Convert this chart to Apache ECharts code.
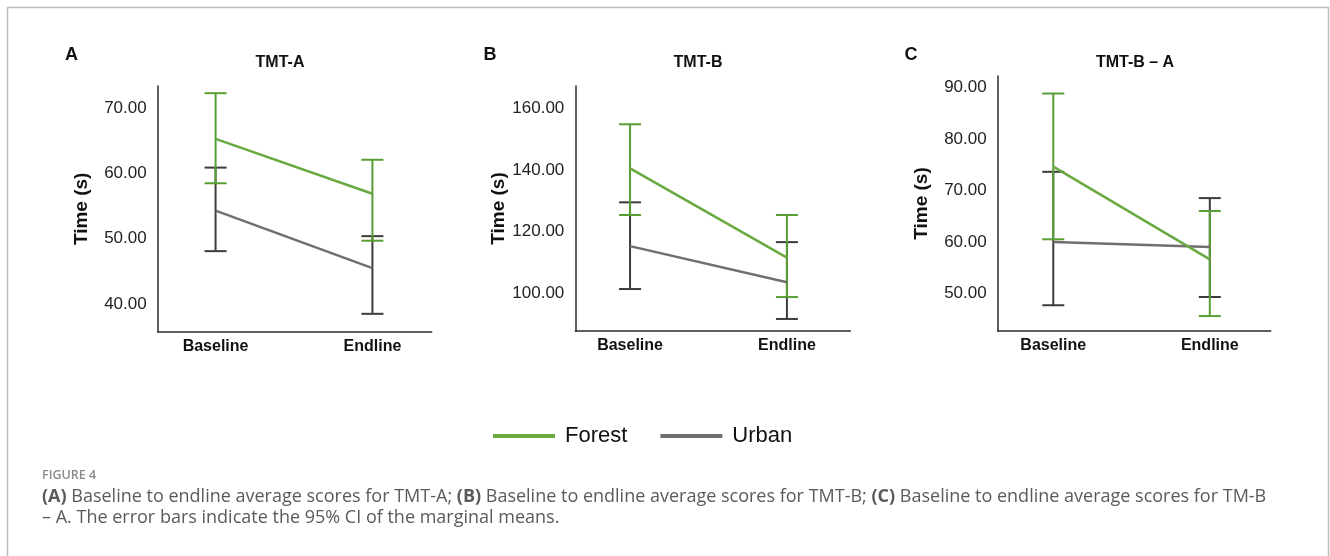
<!DOCTYPE html>
<html>
<head>
<meta charset="utf-8">
<script src="https://cdn.jsdelivr.net/npm/echarts@6/dist/echarts.min.js"></script>
<style>
html,body{margin:0;padding:0;background:#fff;}
#chart{width:1330px;height:556px;}
</style>
</head>
<body>
<div id="chart"></div>
<script>
// ---- data ----
var categories = ['Baseline', 'Endline'];
var panelTitles = ['TMT-A', 'TMT-B', 'TMT-B \u2013 A'];
var panelLetters = ['A', 'B', 'C'];
var seriesNames = ['Forest', 'Urban'];

// Panel A: TMT-A
var forestA_mean = [65.3, 56.9];
var forestA_lo   = [58.5, 49.7];
var forestA_hi   = [72.3, 62.1];
var urbanA_mean  = [54.3, 45.5];
var urbanA_lo    = [48.1, 38.5];
var urbanA_hi    = [60.9, 50.4];

// Panel B: TMT-B
var forestB_mean = [140.5, 111.6];
var forestB_lo   = [125.4, 98.8];
var forestB_hi   = [154.8, 125.4];
var urbanB_mean  = [115.3, 103.6];
var urbanB_lo    = [101.4, 91.7];
var urbanB_hi    = [129.5, 116.6];

// Panel C: TMT-B - A
var forestC_mean = [74.6, 56.6];
var forestC_lo   = [60.5, 45.6];
var forestC_hi   = [88.8, 66.0];
var urbanC_mean  = [60.0, 59.0];
var urbanC_lo    = [47.7, 49.3];
var urbanC_hi    = [73.6, 68.5];

// tick labels
var ticksA = [40, 50, 60, 70];
var ticksB = [100, 120, 140, 160];
var ticksC = [50, 60, 70, 80, 90];

// ---- build ----
var GREEN = '#68a940', GREEN_ERR = '#579f34';
var GRAY = '#716e72', GRAY_ERR = '#3c3c3c';

var panels = [
  {fm: forestA_mean, fl: forestA_lo, fh: forestA_hi, um: urbanA_mean, ul: urbanA_lo, uh: urbanA_hi,
   ticks: ticksA, ymin: 35.76, ymax: 73.4, xmin: -0.369, xmax: 1.378,
   grid: {left: 157.7, top: 86, width: 274, height: 245.7}},
  {fm: forestB_mean, fl: forestB_lo, fh: forestB_hi, um: urbanB_mean, ul: urbanB_lo, uh: urbanB_hi,
   ticks: ticksB, ymin: 87.8, ymax: 167.2, xmin: -0.349, xmax: 1.404,
   grid: {left: 575.3, top: 86, width: 275, height: 245}},
  {fm: forestC_mean, fl: forestC_lo, fh: forestC_hi, um: urbanC_mean, ul: urbanC_lo, uh: urbanC_hi,
   ticks: ticksC, ymin: 42.7, ymax: 92.2, xmin: -0.355, xmax: 1.389,
   grid: {left: 997.7, top: 76, width: 273, height: 255}}
];

function pairs(arr) { return arr.map(function (v, i) { return [i, v]; }); }
function errData(lo, hi) { return lo.map(function (v, i) { return [i, v, hi[i]]; }); }
function errRender(color) {
  return function (params, api) {
    var x = api.value(0);
    var pLo = api.coord([x, api.value(1)]);
    var pHi = api.coord([x, api.value(2)]);
    var hw = 11;
    var st = {stroke: color, lineWidth: 2};
    return {
      type: 'group',
      children: [
        {type: 'line', shape: {x1: pLo[0], y1: pLo[1], x2: pHi[0], y2: pHi[1]}, style: st},
        {type: 'line', shape: {x1: pHi[0] - hw, y1: pHi[1], x2: pHi[0] + hw, y2: pHi[1]}, style: st},
        {type: 'line', shape: {x1: pLo[0] - hw, y1: pLo[1], x2: pLo[0] + hw, y2: pLo[1]}, style: st}
      ]
    };
  };
}

var grids = [], xAxes = [], yAxes = [], series = [];
var FONT = '"Liberation Sans", Arial, sans-serif';
panels.forEach(function (p, i) {
  grids.push(p.grid);
  xAxes.push({
    type: 'value', gridIndex: i, min: p.xmin, max: p.xmax,
    axisLine: {show: true, onZero: false, lineStyle: {color: '#2b2b2b', width: 1.5}},
    axisTick: {show: false}, splitLine: {show: false},
    axisLabel: {
      customValues: [0, 1], margin: 7,
      formatter: function (v) { return categories[Math.round(v)]; },
      color: '#111', fontSize: 16, fontWeight: 'bold', fontFamily: FONT
    }
  });
  yAxes.push({
    type: 'value', gridIndex: i, min: p.ymin, max: p.ymax,
    name: 'Time (s)', nameLocation: 'middle', nameGap: 66, nameRotate: 90,
    nameTextStyle: {color: '#111', fontSize: 19, fontWeight: 'bold', fontFamily: FONT},
    axisLine: {show: true, onZero: false, lineStyle: {color: '#2b2b2b', width: 1.5}},
    axisTick: {show: false}, splitLine: {show: false},
    axisLabel: {
      customValues: p.ticks, margin: 11,
      formatter: function (v) { return Number(v).toFixed(2); },
      color: '#222', fontSize: 17, fontFamily: FONT
    }
  });
  series.push({
    name: 'Urban', type: 'custom', xAxisIndex: i, yAxisIndex: i,
    renderItem: errRender(GRAY_ERR), data: errData(p.ul, p.uh), encode: {x: 0, y: [1, 2]}, z: 2, silent: true
  });
  series.push({
    name: 'Forest', type: 'custom', xAxisIndex: i, yAxisIndex: i,
    renderItem: errRender(GREEN_ERR), data: errData(p.fl, p.fh), encode: {x: 0, y: [1, 2]}, z: 3, silent: true
  });
  series.push({
    name: 'Urban', type: 'line', xAxisIndex: i, yAxisIndex: i, data: pairs(p.um),
    showSymbol: false, symbol: 'none', lineStyle: {color: GRAY, width: 2.5}, itemStyle: {color: GRAY}, z: 4, silent: true
  });
  series.push({
    name: 'Forest', type: 'line', xAxisIndex: i, yAxisIndex: i, data: pairs(p.fm),
    showSymbol: false, symbol: 'none', lineStyle: {color: GREEN, width: 2.5}, itemStyle: {color: GREEN}, z: 5, silent: true
  });
});

var titleCenters = [280, 698, 1135];
var letterX = [71.5, 490, 911];
var graphics = [
  {type: 'rect', shape: {x: 7.5, y: 7.5, width: 1321, height: 600}, style: {fill: 'none', stroke: '#bdbdbd', lineWidth: 1.5}, z: 100, silent: true}
];
panels.forEach(function (p, i) {
  graphics.push({type: 'text', x: letterX[i], y: 55.5, style: {text: panelLetters[i], fontSize: 18, fontWeight: 'bold', fontFamily: FONT, fill: '#111', align: 'center', verticalAlign: 'middle'}});
  graphics.push({type: 'text', x: titleCenters[i], y: 63, style: {text: panelTitles[i], fontSize: 16, fontWeight: 'bold', fontFamily: FONT, fill: '#111', align: 'center', verticalAlign: 'middle'}});
});
var CAPFONT = '"Open Sans", "Noto Sans", sans-serif';
graphics.push({type: 'text', x: 42, y: 475, style: {text: 'FIGURE 4', fontSize: 12.5, fontWeight: 600, fontFamily: CAPFONT, fill: '#8a8a8a', verticalAlign: 'middle'}});
graphics.push({type: 'text', x: 42, y: 497, style: {
  text: '{b|(A)} Baseline to endline average scores for TMT-A; {b|(B)} Baseline to endline average scores for TMT-B; {b|(C)} Baseline to endline average scores for TM-B',
  fontSize: 18, fontFamily: CAPFONT, fill: '#5a5a5a', verticalAlign: 'middle',
  rich: {b: {fontWeight: 'bold', fontSize: 18, fontFamily: CAPFONT, fill: '#5a5a5a'}}
}});
graphics.push({type: 'text', x: 42, y: 518, style: {
  text: '\u2013 A. The error bars indicate the 95% CI of the marginal means.',
  fontSize: 18, fontFamily: CAPFONT, fill: '#5a5a5a', verticalAlign: 'middle'
}});

var chart = echarts.init(document.getElementById('chart'), null, {renderer: 'canvas'});
chart.setOption({
  animation: false,
  backgroundColor: '#fff',
  grid: grids,
  xAxis: xAxes,
  yAxis: yAxes,
  legend: {
    data: [
      {name: 'Forest', icon: 'rect', itemStyle: {color: GREEN}},
      {name: 'Urban', icon: 'rect', itemStyle: {color: GRAY}}
    ],
    left: 488, top: 420, itemWidth: 62, itemHeight: 4, itemGap: 33,
    textStyle: {fontSize: 22, fontFamily: FONT, color: '#111', padding: [0, 0, 0, 5]},
    selectedMode: false
  },
  series: series,
  graphic: graphics
});
</script>
</body>
</html>
